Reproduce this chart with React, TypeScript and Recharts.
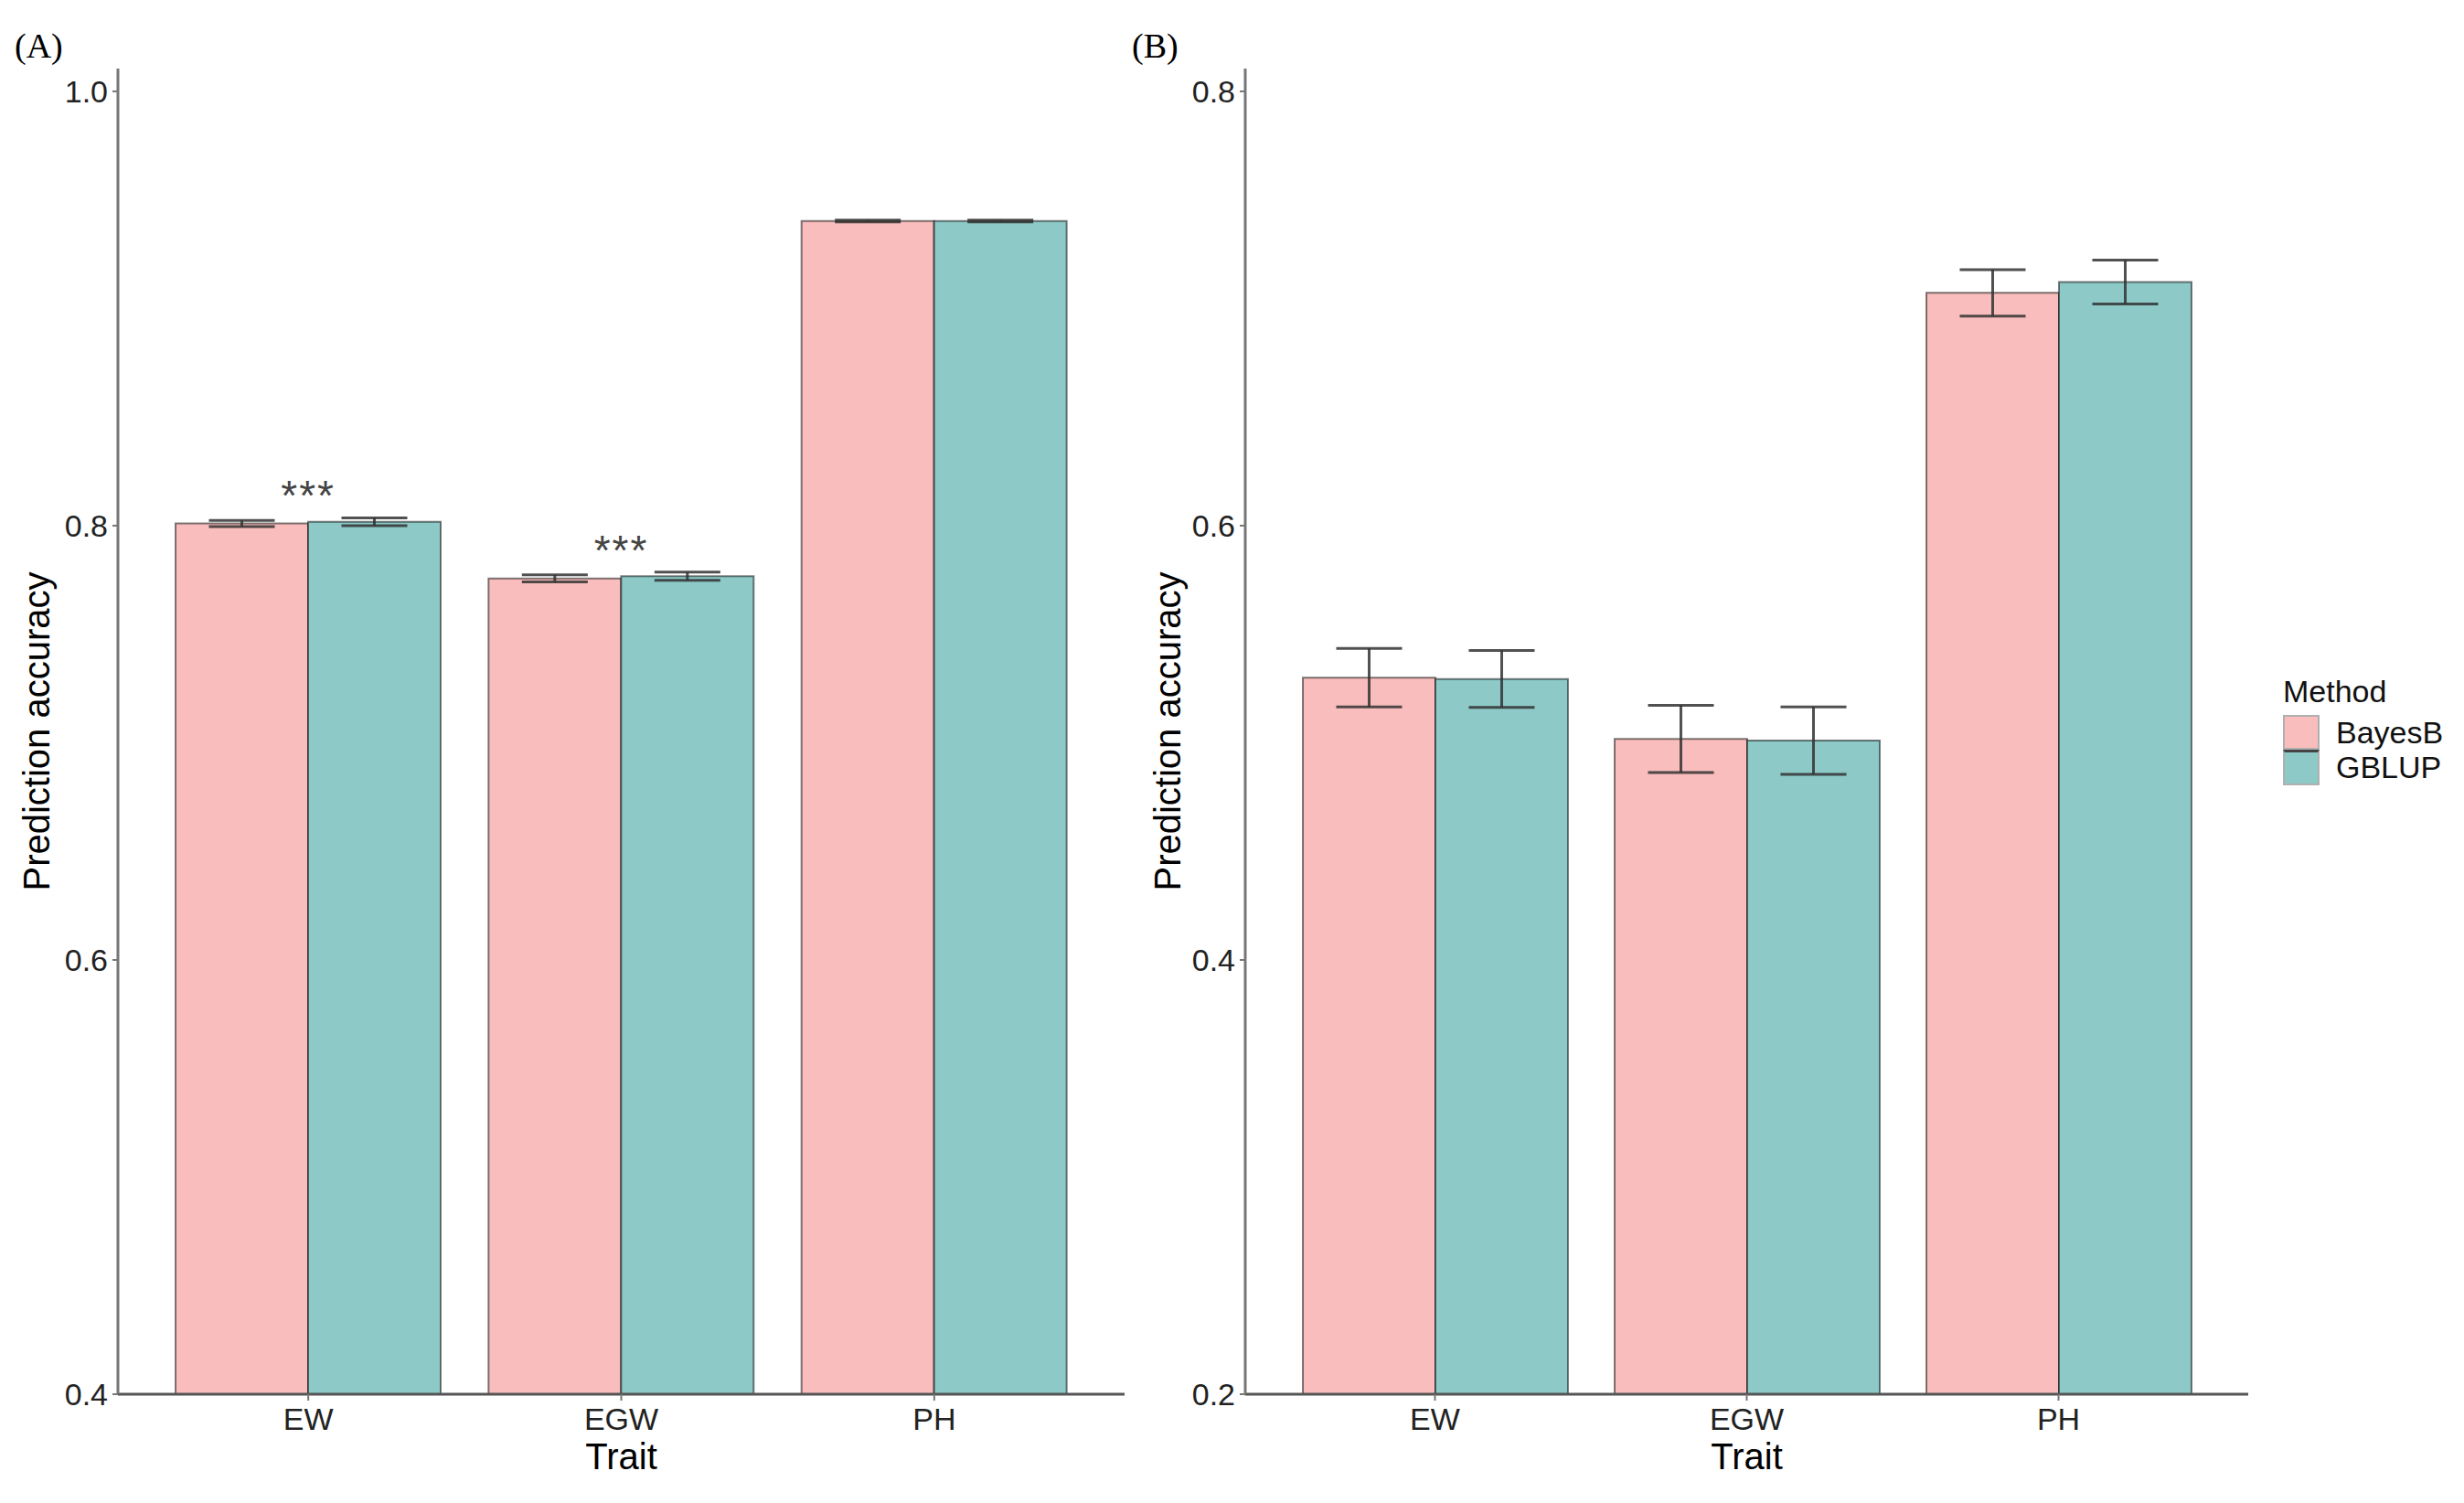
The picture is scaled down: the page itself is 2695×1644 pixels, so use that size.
import React from 'react';
import {
  BarChart,
  Bar,
  XAxis,
  YAxis,
  ErrorBar,
  ReferenceDot,
  Legend
} from 'recharts';

// shared categories and series names
const traits = ['EW', 'EGW', 'PH'];
const methods = ['BayesB', 'GBLUP'];
const colors = ['#F8BDBC', '#8CC9C7'];

// panel (A)
const bayesA = [0.801, 0.7757, 0.9403];
const bayesAErr = [0.0014, 0.0016, 0.0004];
const gblupA = [0.8018, 0.7767, 0.9403];
const gblupAErr = [0.0018, 0.0019, 0.0004];
const ticksA = [0.4, 0.6, 0.8, 1.0];
const sigA = [
  { trait: 'EW', y: 0.8168, text: '***' },
  { trait: 'EGW', y: 0.7916, text: '***' }
];

// panel (B)
const bayesB = [0.530, 0.5018, 0.7072];
const bayesBErr = [0.0135, 0.0155, 0.0107];
const gblupB = [0.5294, 0.501, 0.7122];
const gblupBErr = [0.0131, 0.0155, 0.0101];
const ticksB = [0.2, 0.4, 0.6, 0.8];

const FONT = '"Liberation Sans", Arial, sans-serif';

const buildRows = (b: number[], be: number[], g: number[], ge: number[]) =>
  traits.map((t, i) => ({
    trait: t,
    BayesB: b[i],
    BayesBErr: be[i],
    GBLUP: g[i],
    GBLUPErr: ge[i]
  }));

const dataA = buildRows(bayesA, bayesAErr, gblupA, gblupAErr);
const dataB = buildRows(bayesB, bayesBErr, gblupB, gblupBErr);

const MethodLegend = () => (
  <div style={{ fontFamily: FONT, color: '#111' }}>
    <div style={{ fontSize: 34, lineHeight: '40px', marginBottom: 6 }}>Method</div>
    {methods.map((m, i) => (
      <div key={m} style={{ display: 'flex', alignItems: 'center', height: 38 }}>
        <div
          style={{
            width: 36,
            height: 34,
            background: colors[i],
            border: '2px solid #b0b0b0',
            borderTop: i === 1 ? '3px solid #444' : '2px solid #b0b0b0'
          }}
        />
        <span style={{ fontSize: 34, marginLeft: 18, lineHeight: '38px' }}>{m}</span>
      </div>
    ))}
  </div>
);

interface PanelProps {
  data: any[];
  domain: [number, number];
  ticks: number[];
  width: number;
  axisLeft: number;
  titleOffset: number;
  rightMargin: number;
  sig?: { trait: string; y: number; text: string }[];
  withLegend?: boolean;
}

const Panel: React.FC<PanelProps> = ({
  data, domain, ticks, width, axisLeft, titleOffset, rightMargin, sig, withLegend
}) => (
  <BarChart
    width={width}
    height={1644}
    data={data}
    margin={{ top: 75, right: rightMargin, bottom: 34, left: 0 }}
    barCategoryGap={26}
    barGap={0}
  >
    <XAxis
      dataKey="trait"
      padding={{ left: 37, right: 37 }}
      height={85}
      stroke="#555"
      strokeWidth={3}
      tickSize={7}
      tickMargin={8}
      tickLine={{ stroke: '#777', strokeWidth: 2 }}
      tick={{ fontSize: 34, fill: '#222', fontFamily: FONT }}
      label={{
        value: 'Trait',
        position: 'insideBottom',
        offset: 3,
        fontSize: 40,
        fill: '#000',
        fontFamily: FONT
      }}
    />
    <YAxis
      type="number"
      domain={domain}
      ticks={ticks}
      allowDataOverflow
      width={axisLeft}
      stroke="#777"
      strokeWidth={3}
      tickSize={6}
      tickMargin={5}
      tickLine={{ stroke: '#777', strokeWidth: 2 }}
      tickFormatter={(v: number) => v.toFixed(1)}
      tick={{ fontSize: 34, fill: '#222', fontFamily: FONT }}
      label={{
        value: 'Prediction accuracy',
        angle: -90,
        position: 'insideLeft',
        offset: titleOffset,
        fontSize: 40,
        fill: '#000',
        fontFamily: FONT,
        style: { textAnchor: 'middle' }
      }}
    />
    {methods.map((m, i) => (
      <Bar
        key={m}
        dataKey={m}
        fill={colors[i]}
        stroke="#000"
        strokeOpacity={0.5}
        strokeWidth={2}
        isAnimationActive={false}
      >
        <ErrorBar
          dataKey={`${m}Err`}
          width={36}
          stroke="#333"
          strokeWidth={3}
          strokeOpacity={0.85}
          direction="y"
        />
      </Bar>
    ))}
    {(sig || []).map(s => (
      <ReferenceDot
        key={s.trait}
        x={s.trait}
        y={s.y}
        r={0}
        fill="none"
        stroke="none"
        label={{
          value: s.text,
          position: 'center',
          dy: 7,
          fontSize: 46,
          letterSpacing: 2,
          fill: '#444',
          fontFamily: FONT
        }}
      />
    ))}
    {withLegend && (
      <Legend
        layout="horizontal"
        verticalAlign="middle"
        align="center"
        wrapperStyle={{ left: 1297, top: 736, width: 200 }}
        content={() => <MethodLegend />}
      />
    )}
  </BarChart>
);

const App: React.FC = () => {
  return (
    <div style={{ position: 'absolute', left: 0, top: 0, width: 2695, height: 1644, background: '#fff' }}>
      <div style={{ position: 'absolute', left: 0, top: 0 }}>
        <Panel
          data={dataA}
          domain={[0.4, 1.0105]}
          ticks={ticksA}
          width={1250}
          axisLeft={129}
          titleOffset={40}
          rightMargin={20}
          sig={sigA}
        />
      </div>
      <div style={{ position: 'absolute', left: 1200, top: 0 }}>
        <Panel
          data={dataB}
          domain={[0.2, 0.8105]}
          ticks={ticksB}
          width={1495}
          axisLeft={162}
          titleOffset={77}
          rightMargin={236}
          withLegend
        />
      </div>
      <div style={{ position: 'absolute', left: 16, top: 28, fontFamily: '"Liberation Serif", "Times New Roman", serif', fontSize: 38 }}>(A)</div>
      <div style={{ position: 'absolute', left: 1238, top: 28, fontFamily: '"Liberation Serif", "Times New Roman", serif', fontSize: 38 }}>(B)</div>
    </div>
  );
};

export default App;
